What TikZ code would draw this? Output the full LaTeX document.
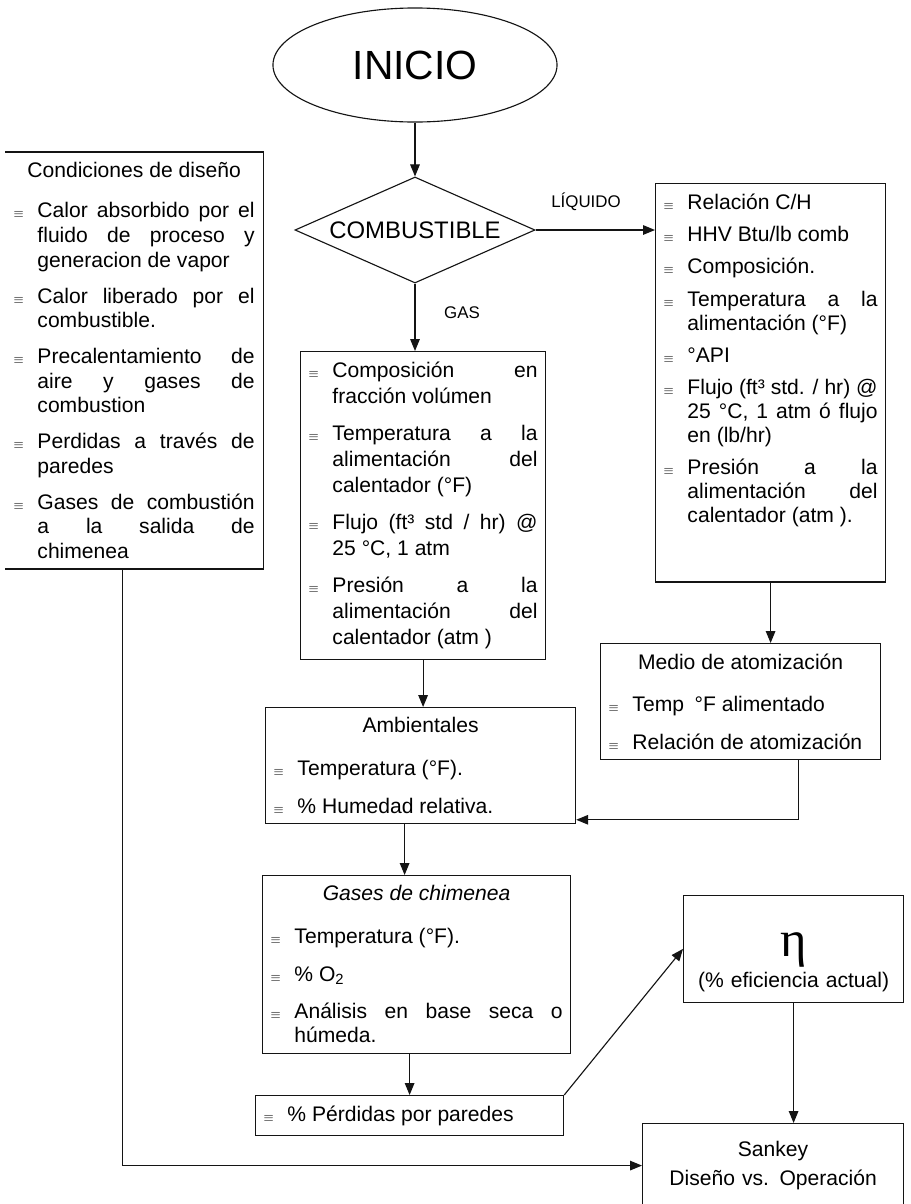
\documentclass[tikz,border=0pt]{standalone}
\usepackage{fontspec}
\setmainfont{Liberation Sans}
\newfontfamily\griego{Liberation Serif}
\usetikzlibrary{shapes.geometric,arrows.meta}

\definecolor{scan_negro}{RGB}{20,20,20}

\newcommand{\vineta}{{\fontsize{9}{9}\selectfont$\equiv$}}
\newcommand{\primero}{\hangindent=17pt\hangafter=1\noindent\makebox[17pt][l]{\vineta}}
\newcommand{\punto}{\par\primero}
\newcommand{\encabezado}[1]{\hfil{#1}\par\vspace{3pt}}
\newcommand{\letra}[2]{\fontsize{15}{#1}\selectfont\parskip=#2\tolerance=10000}

\begin{document}
\begin{tikzpicture}[
      x=0.025cm,
      y=-0.025cm,
      line width=0.8pt,
      caja/.style={
        draw=scan_negro,
        anchor=north west,
        align=justify,
        inner xsep=0.2cm,
        inner ysep=0.25cm,
        font={\letra{17.5pt}{8pt}}
      },
      cajalista/.style={
        caja,
        font={\letra{17pt}{10pt}}
      },
      flecha/.style={
        draw=scan_negro,
        -{Triangle[length=0.3cm,width=0.24cm]}
      },
      rotulo/.style={
        font=\fontsize{12}{14}\selectfont
      }
    ]

      \path[use as bounding box, fill=white] (0,0) rectangle (911,1204);

      % Inicio y decision
      \node [draw=scan_negro, ellipse, minimum width=7.1cm, minimum height=2.85cm,
        font=\fontsize{29}{32}\selectfont] (inicio) at (415,65) {INICIO};
      \node [draw=scan_negro, diamond, aspect=2.26, minimum width=6cm, minimum height=2.65cm,
        inner sep=0pt, font=\fontsize{17}{20}\selectfont] (comb) at (415,230) {COMBUSTIBLE};
      \node [rotulo] (lliq) at (586,202) {LÍQUIDO};
      \node [rotulo] (lgas) at (462,313) {GAS};

      % Condiciones de diseno (sin borde izquierdo)
      \node [caja, draw=none, text width=6.025cm] (cond) at (5,152) {%
        \encabezado{Condiciones de diseño}
        \punto Calor absorbido por el\linebreak fluido de proceso y\linebreak generacion de vapor
        \punto Calor liberado por el\linebreak combustible.
        \punto Precalentamiento de\linebreak aire y gases de\linebreak combustion
        \punto Perdidas a través de\linebreak paredes
        \punto Gases de combustión\linebreak a la salida de\linebreak chimenea\par};
      \draw [scan_negro] (cond.north west) -- (cond.north east) -- (cond.south east) -- (cond.south west);

      % Liquido
      \node [caja, font={\letra{17pt}{6pt}}, text width=5.35cm] (liq) at (655,183) {%
        \primero Relación C/H
        \punto HHV Btu/lb comb
        \punto Composición.
        \punto Temperatura a la\linebreak alimentación (°F)
        \punto °API
        \punto Flujo (ft³ std. / hr) @\linebreak 25 °C, 1 atm ó flujo\linebreak en (lb/hr)
        \punto Presión a la\linebreak alimentación del\linebreak calentador (atm ).\par
        \kern32pt};

      % Gas
      \node [caja, font={\letra{18.5pt}{8pt}}, text width=5.725cm] (gas) at (300,351) {%
        \primero Composición en\linebreak fracción volúmen
        \punto Temperatura a la\linebreak alimentación del\linebreak calentador (°F)
        \punto Flujo (ft³ std / hr) @\linebreak 25 °C, 1 atm
        \punto Presión a la\linebreak alimentación del\linebreak calentador (atm )\par};

      % Medio de atomizacion
      \node [cajalista, text width=6.6cm] (medio) at (600,643) {%
        \encabezado{Medio de atomización}
        \punto Temp\enspace °F alimentado
        \punto Relación de atomización\par};

      % Ambientales
      \node [cajalista, text width=7.35cm] (amb) at (265,707) {%
        \encabezado{Ambientales}
        \punto Temperatura (°F).
        \punto \% Humedad relativa.\par};

      % Gases de chimenea
      \node [cajalista, text width=7.3cm] (chim) at (262,875) {%
        \encabezado{\itshape Gases de chimenea}
        \punto Temperatura (°F).
        \punto \% O\textsubscript{2}
        \punto Análisis en base seca o\linebreak húmeda.\par};

      % Perdidas, eficiencia, Sankey
      \node [caja, text width=7.3cm] (perd) at (255,1095) {\primero \% Pérdidas por paredes\par};
      \node [caja, align=center, text width=5.1cm, minimum height=2.625cm] (eta) at (683,895)
        {{\griego\fontsize{36}{38}\selectfont\rule{0pt}{36pt}η}\\[3pt](\% eficiencia actual)};
      \node [caja, align=center, text width=6.125cm, minimum height=2.1cm] (sankey) at (642,1123)
        {Sankey\\[3pt]Diseño vs. Operación};

      % Flechas
      \draw [flecha] (inicio) -- (comb);
      \draw [flecha] (comb.east) -- (comb.east -| liq.west);
      \draw [flecha] (comb.south) -- (comb.south |- gas.north);
      \draw [flecha] (liq.south) -- (liq.south |- medio.north);
      \draw [flecha] (gas.south) -- (gas.south |- amb.north);
      \draw [flecha] ([xshift=1.45cm]medio.south) |- ([yshift=0.1cm]amb.south east);
      \draw [flecha] ([xshift=-0.4cm]amb.south) -- ([xshift=-0.4cm]amb.south |- chim.north);
      \draw [flecha] (chim.south -| perd.north) -- (perd.north);
      \draw [flecha] (perd.north east) -- (eta.west);
      \draw [flecha] (eta.south) -- (eta.south |- sankey.north);
      \draw [flecha] ([xshift=-0.29cm]cond.south) |- (sankey.west);
    \end{tikzpicture}
\end{document}
